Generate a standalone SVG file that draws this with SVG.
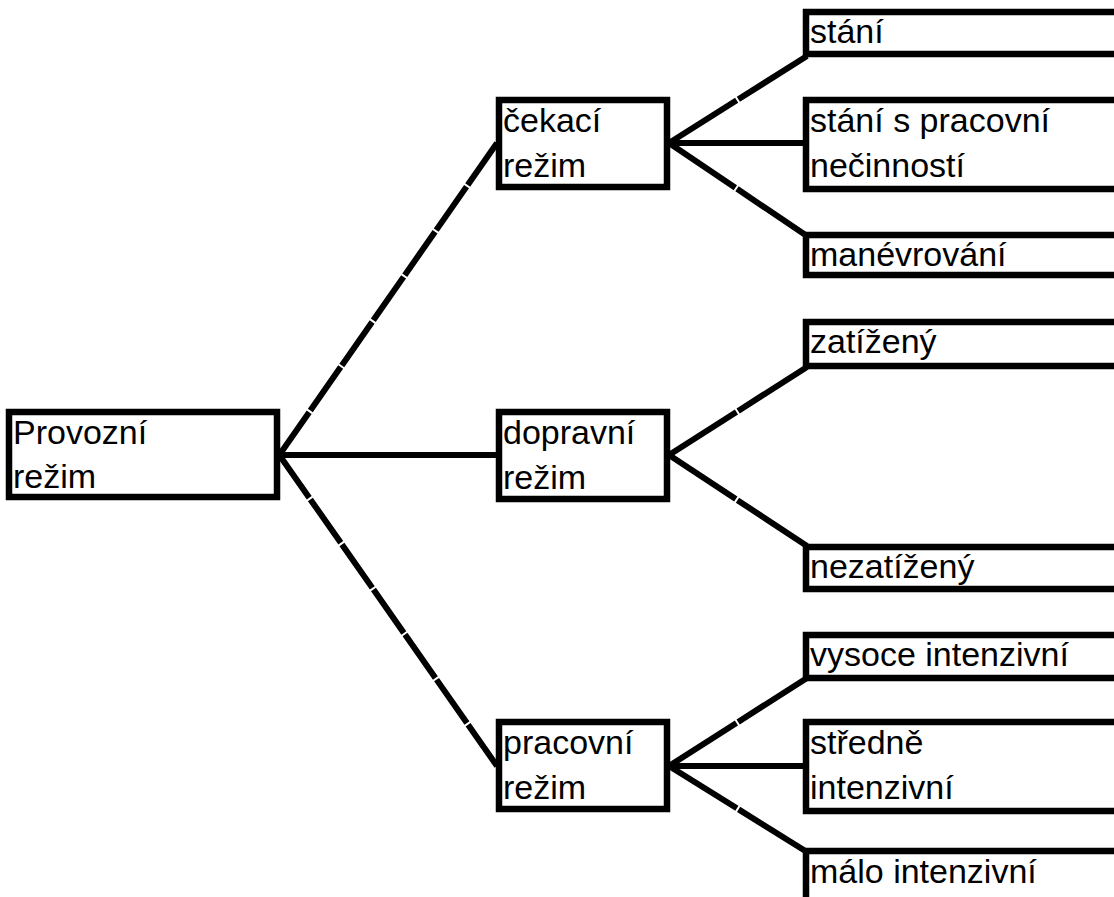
<svg xmlns="http://www.w3.org/2000/svg" width="1114" height="897" viewBox="0 0 1114 897">
<style>
.box{fill:#fff;stroke:#000;stroke-width:6.5}
.t{font-family:"Liberation Sans",Arial,sans-serif;font-size:34px;fill:#000}
.c{stroke:#000;stroke-width:6;fill:none;stroke-linecap:butt}
.dl{stroke-dasharray:53 2;stroke-dashoffset:2}
.dr{stroke-dasharray:80 2 200}
</style>
<rect width="1114" height="897" fill="#fff"/>
<g id="connectors">
<line class="c dl" x1="280" y1="454" x2="497" y2="143"/>
<line class="c" x1="280" y1="455" x2="497" y2="455"/>
<line class="c dl" x1="280" y1="456" x2="497" y2="766"/>
<line class="c dr" x1="669" y1="143" x2="807" y2="56"/>
<line class="c" x1="669" y1="143" x2="807" y2="143"/>
<line class="c dr" x1="669" y1="143" x2="807" y2="236"/>
<line class="c dr" x1="669" y1="455" x2="807" y2="367"/>
<line class="c dr" x1="669" y1="455" x2="807" y2="546"/>
<line class="c dr" x1="669" y1="766" x2="807" y2="678"/>
<line class="c" x1="669" y1="766" x2="807" y2="766"/>
<line class="c dr" x1="669" y1="766" x2="807" y2="852"/>
</g>
<g id="provozni"><rect class="box" x="9" y="412" width="268" height="85"/><text class="t" x="13" y="444">Provozní</text><text class="t" x="13" y="488">režim</text></g>
<g id="cekaci"><rect class="box" x="499" y="100" width="168" height="87"/><text class="t" x="503" y="132">čekací</text><text class="t" x="503" y="177">režim</text></g>
<g id="dopravni"><rect class="box" x="499" y="412" width="168" height="87"/><text class="t" x="503" y="444">dopravní</text><text class="t" x="503" y="489">režim</text></g>
<g id="pracovni"><rect class="box" x="499" y="722" width="168" height="87"/><text class="t" x="503" y="754">pracovní</text><text class="t" x="503" y="799">režim</text></g>
<g id="stani"><rect class="box" x="806" y="12" width="330" height="42"/><text class="t" x="810" y="43">stání</text></g>
<g id="stani-necinnost"><rect class="box" x="806" y="100" width="330" height="89"/><text class="t" x="810" y="132">stání s pracovní</text><text class="t" x="810" y="177">nečinností</text></g>
<g id="manevrovani"><rect class="box" x="806" y="235" width="330" height="40"/><text class="t" x="810" y="266">manévrování</text></g>
<g id="zatizeny"><rect class="box" x="806" y="322" width="330" height="44"/><text class="t" x="810" y="353">zatížený</text></g>
<g id="nezatizeny"><rect class="box" x="806" y="547" width="330" height="42"/><text class="t" x="810" y="578">nezatížený</text></g>
<g id="vysoce"><rect class="box" x="806" y="635" width="330" height="43"/><text class="t" x="810" y="666">vysoce intenzivní</text></g>
<g id="stredne"><rect class="box" x="806" y="722" width="330" height="89"/><text class="t" x="810" y="754">středně</text><text class="t" x="810" y="799">intenzivní</text></g>
<g id="malo"><rect class="box" x="806" y="851" width="330" height="60"/><text class="t" x="810" y="883">málo intenzivní</text></g>
</svg>
